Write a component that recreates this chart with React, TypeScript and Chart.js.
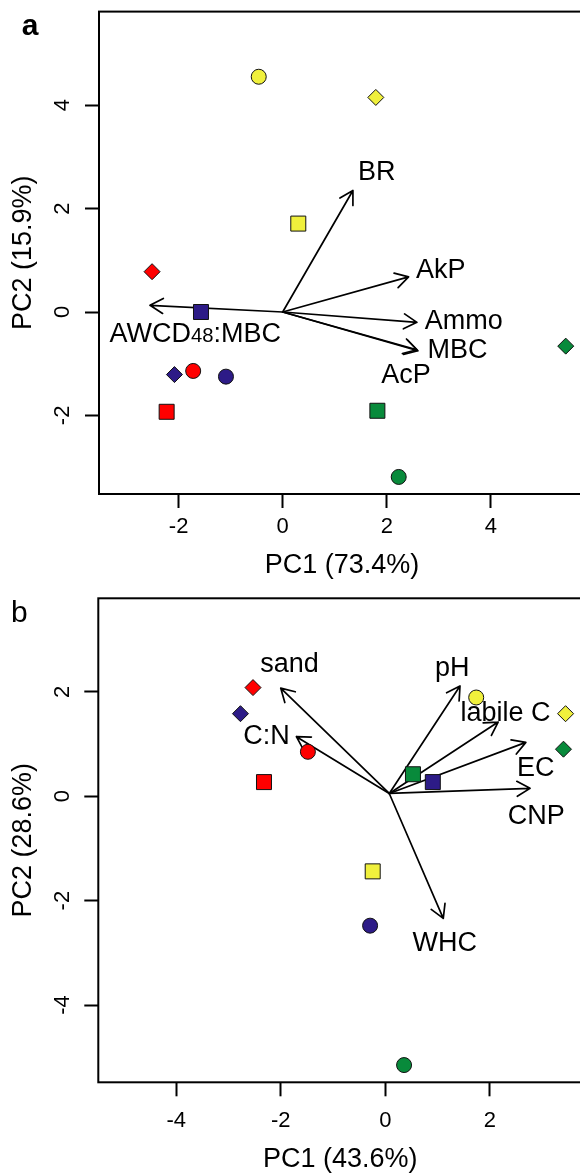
import React, { useEffect, useRef } from 'react';
import { Chart, registerables } from 'chart.js';

Chart.register(...registerables);

const FONT = '"Liberation Sans", Arial, Helvetica, sans-serif';
Chart.defaults.font.family = FONT;
Chart.defaults.color = '#000';

// group colours (yellow, red, navy, green) and marker shapes (circle, square, diamond)
const GROUP_COLORS = ['#F0F03C', '#FF0000', '#2D1B87', '#088A3B'];
const SHAPE_STYLES = ['circle', 'rect', 'rectRot'];
const SHAPE_RADII = [7.5, 10.6, 8];

// ---------------- Panel a ----------------
const A_GROUP = [0, 0, 0, 1, 1, 1, 2, 2, 2, 3, 3, 3];
const A_SHAPE = [0, 1, 2, 0, 1, 2, 0, 1, 2, 0, 1, 2];
const A_PC1 = [-0.46, 0.30, 1.79, -1.72, -2.23, -2.51, -1.09, -1.57, -2.08, 2.23, 1.82, 5.44];
const A_PC2 = [4.55, 1.71, 4.15, -1.14, -1.93, 0.78, -1.25, 0.0, -1.21, -3.19, -1.91, -0.66];
const A_VARS = ['BR', 'AkP', 'Ammo', 'MBC', 'AcP', 'AWCD48:MBC'];
const A_LOAD_X = [1.35, 2.42, 2.58, 2.60, 2.58, -2.55];
const A_LOAD_Y = [2.35, 0.68, -0.20, -0.75, -0.73, 0.13];
const A_LABEL_X = [1.81, 3.04, 3.48, 3.36, 2.37, -1.68];
const A_LABEL_Y = [2.74, 0.83, -0.14, -0.71, -1.19, -0.39];
const A_ORIGIN = [0, 0];
const A_X_TICKS = [-2, 0, 2, 4];
const A_Y_TICKS = [-2, 0, 2, 4];
const A_X_RANGE = [-3.53, 5.81];
const A_Y_RANGE = [-3.52, 5.81];

// ---------------- Panel b ----------------
const B_GROUP = [0, 0, 0, 1, 1, 1, 2, 2, 2, 3, 3, 3];
const B_SHAPE = [0, 1, 2, 0, 1, 2, 0, 1, 2, 0, 1, 2];
const B_PC1 = [1.74, -0.24, 3.45, -1.48, -2.32, -2.53, -0.29, 0.91, -2.77, 0.36, 0.53, 3.41];
const B_PC2 = [1.89, -1.44, 1.58, 0.85, 0.27, 2.08, -2.48, 0.27, 1.58, -5.15, 0.42, 0.90];
const B_VARS = ['sand', 'C:N', 'pH', 'labile C', 'EC', 'CNP', 'WHC'];
const B_LOAD_X = [-2.0, -1.70, 1.43, 2.16, 2.69, 2.77, 1.11];
const B_LOAD_Y = [2.07, 1.14, 2.11, 1.42, 1.03, 0.15, -2.34];
const B_LABEL_X = [-1.83, -2.27, 1.28, 2.30, 2.88, 2.89, 1.14];
const B_LABEL_Y = [2.55, 1.17, 2.48, 1.62, 0.57, -0.36, -2.78];
const B_ORIGIN = [0.077, 0.052];
const B_X_TICKS = [-4, -2, 0, 2];
const B_Y_TICKS = [-4, -2, 0, 2];
const B_X_RANGE = [-5.49, 3.77];
const B_Y_RANGE = [-5.48, 3.79];

type Panel = {
  group: number[]; shape: number[]; pc1: number[]; pc2: number[];
  vars: string[]; loadX: number[]; loadY: number[]; labX: number[]; labY: number[];
  origin: number[]; xTicks: number[]; yTicks: number[]; xRange: number[]; yRange: number[];
  xTitle: string; yTitle: string; letter: string;
};

type Layout = {
  top: number; height: number; padTop: number; padRight: number;
  yAxisW: number; xAxisH: number; xTickPad: number; yTickPad: number;
  xTitlePad: number; yTitlePad: number; letterX: number; letterY: number; letterBold: boolean;
};

const PANEL_A: Panel = {
  group: A_GROUP, shape: A_SHAPE, pc1: A_PC1, pc2: A_PC2,
  vars: A_VARS, loadX: A_LOAD_X, loadY: A_LOAD_Y, labX: A_LABEL_X, labY: A_LABEL_Y,
  origin: A_ORIGIN, xTicks: A_X_TICKS, yTicks: A_Y_TICKS, xRange: A_X_RANGE, yRange: A_Y_RANGE,
  xTitle: 'PC1 (73.4%)', yTitle: 'PC2 (15.9%)', letter: 'a',
};
const PANEL_B: Panel = {
  group: B_GROUP, shape: B_SHAPE, pc1: B_PC1, pc2: B_PC2,
  vars: B_VARS, loadX: B_LOAD_X, loadY: B_LOAD_Y, labX: B_LABEL_X, labY: B_LABEL_Y,
  origin: B_ORIGIN, xTicks: B_X_TICKS, yTicks: B_Y_TICKS, xRange: B_X_RANGE, yRange: B_Y_RANGE,
  xTitle: 'PC1 (43.6%)', yTitle: 'PC2 (28.6%)', letter: 'b',
};

const LAYOUT_A: Layout = {
  top: 0, height: 585, padTop: 10, padRight: 15, yAxisW: 99, xAxisH: 91,
  xTickPad: 5.8, yTickPad: 12, xTitlePad: 2.8, yTitlePad: 7.4, letterX: 30, letterY: 35, letterBold: true,
};
const LAYOUT_B: Layout = {
  top: 585, height: 600, padTop: 13.3, padRight: 17.7, yAxisW: 98.3, xAxisH: 102.7,
  xTickPad: 11.8, yTickPad: 12, xTitlePad: 9.5, yTitlePad: 7.4, letterX: 19.3, letterY: 36.7, letterBold: false,
};

const CANVAS_W = 600;
const LABEL_SIZE = 27;
const TICK_SIZE = 22;
const TITLE_SIZE = 27;

function drawArrow(ctx: CanvasRenderingContext2D, x0: number, y0: number, x1: number, y1: number) {
  const ang = Math.atan2(y1 - y0, x1 - x0);
  const L = 15;
  const a = Math.PI / 6;
  ctx.beginPath();
  ctx.moveTo(x0, y0);
  ctx.lineTo(x1, y1);
  ctx.moveTo(x1 - L * Math.cos(ang - a), y1 - L * Math.sin(ang - a));
  ctx.lineTo(x1, y1);
  ctx.lineTo(x1 - L * Math.cos(ang + a), y1 - L * Math.sin(ang + a));
  ctx.stroke();
}

function drawLabel(ctx: CanvasRenderingContext2D, text: string, cx: number, cy: number) {
  const segs = text.split(/(\d+)/).filter((s) => s.length).map((s) => ({
    s,
    size: /^\d+$/.test(s) ? LABEL_SIZE * 0.75 : LABEL_SIZE,
  }));
  let total = 0;
  const widths = segs.map((g) => {
    ctx.font = `${g.size}px ${FONT}`;
    const w = ctx.measureText(g.s).width;
    total += w;
    return w;
  });
  const baseline = cy + 0.3465 * LABEL_SIZE;
  let x = cx - total / 2;
  ctx.textAlign = 'left';
  ctx.textBaseline = 'alphabetic';
  segs.forEach((g, i) => {
    ctx.font = `${g.size}px ${FONT}`;
    ctx.fillText(g.s, x, baseline);
    x += widths[i];
  });
}

function makePlugin(p: Panel, l: Layout) {
  return {
    id: 'biplot_' + p.letter,
    beforeDatasetsDraw(chart: any) {
      const { ctx, scales } = chart;
      const xs = scales.x;
      const ys = scales.y;
      ctx.save();
      ctx.strokeStyle = '#000';
      ctx.lineWidth = 1.7;
      ctx.lineCap = 'round';
      ctx.lineJoin = 'round';
      const ox = xs.getPixelForValue(p.origin[0]);
      const oy = ys.getPixelForValue(p.origin[1]);
      p.loadX.forEach((lx, i) => {
        drawArrow(ctx, ox, oy, xs.getPixelForValue(lx), ys.getPixelForValue(p.loadY[i]));
      });
      ctx.restore();
    },
    afterDatasetsDraw(chart: any) {
      const { ctx, scales } = chart;
      ctx.save();
      ctx.fillStyle = '#000';
      p.vars.forEach((name, i) => {
        drawLabel(ctx, name, scales.x.getPixelForValue(p.labX[i]), scales.y.getPixelForValue(p.labY[i]));
      });
      ctx.restore();
    },
    afterDraw(chart: any) {
      const { ctx, chartArea } = chart;
      ctx.save();
      ctx.strokeStyle = '#000';
      ctx.lineWidth = 2;
      ctx.strokeRect(chartArea.left, chartArea.top, chartArea.right - chartArea.left, chartArea.bottom - chartArea.top);
      ctx.fillStyle = '#000';
      ctx.font = `${l.letterBold ? 'bold ' : ''}30px ${FONT}`;
      ctx.textAlign = 'center';
      ctx.textBaseline = 'alphabetic';
      ctx.fillText(p.letter, l.letterX, l.letterY);
      ctx.restore();
    },
  };
}

function buildConfig(p: Panel, l: Layout): any {
  const datasets = GROUP_COLORS.map((color, g) => {
    const idx = p.group.map((gg, i) => (gg === g ? i : -1)).filter((i) => i >= 0);
    return {
      label: 'group' + g,
      data: idx.map((i) => ({ x: p.pc1[i], y: p.pc2[i] })),
      pointStyle: idx.map((i) => SHAPE_STYLES[p.shape[i]]),
      pointRadius: idx.map((i) => SHAPE_RADII[p.shape[i]]),
      pointHoverRadius: idx.map((i) => SHAPE_RADII[p.shape[i]]),
      backgroundColor: color,
      borderColor: '#111',
      pointBorderWidth: 1,
      showLine: false,
      clip: false,
    };
  });
  const tickFont = { size: TICK_SIZE, family: FONT };
  const titleFont = { size: TITLE_SIZE, family: FONT, lineHeight: 1.2 };
  const grid = {
    display: true,
    drawOnChartArea: false,
    drawTicks: true,
    tickLength: 14,
    tickWidth: 2,
    tickColor: '#000',
    color: '#000',
  };
  const zeroPad = (s: any) => {
    s.paddingTop = 0;
    s.paddingBottom = 0;
    s.paddingLeft = 0;
    s.paddingRight = 0;
  };
  return {
    type: 'scatter',
    data: { datasets },
    plugins: [makePlugin(p, l)],
    options: {
      responsive: false,
      animation: false,
      devicePixelRatio: 1,
      events: [],
      layout: { padding: { top: l.padTop, right: l.padRight, left: 0, bottom: 0 } },
      plugins: { legend: { display: false }, tooltip: { enabled: false } },
      scales: {
        x: {
          type: 'linear',
          position: 'bottom',
          min: p.xRange[0],
          max: p.xRange[1],
          afterBuildTicks: (s: any) => {
            s.ticks = p.xTicks.map((v) => ({ value: v }));
          },
          afterFit: (s: any) => {
            s.height = l.xAxisH;
            zeroPad(s);
          },
          grid,
          border: { display: false },
          ticks: {
            color: '#000',
            font: tickFont,
            padding: l.xTickPad,
            maxRotation: 0,
            minRotation: 0,
            callback: (v: any) => String(v),
          },
          title: {
            display: true,
            text: p.xTitle,
            color: '#000',
            font: titleFont,
            padding: { top: 0, bottom: l.xTitlePad },
          },
        },
        y: {
          type: 'linear',
          position: 'left',
          min: p.yRange[0],
          max: p.yRange[1],
          afterBuildTicks: (s: any) => {
            s.ticks = p.yTicks.map((v) => ({ value: v }));
          },
          afterFit: (s: any) => {
            s.width = l.yAxisW;
            zeroPad(s);
          },
          grid,
          border: { display: false },
          ticks: {
            color: '#000',
            font: tickFont,
            padding: l.yTickPad,
            minRotation: 90,
            maxRotation: 90,
            crossAlign: 'center',
            callback: (v: any) => String(v),
          },
          title: {
            display: true,
            text: p.yTitle,
            color: '#000',
            font: titleFont,
            padding: { top: l.yTitlePad, bottom: 0 },
          },
        },
      },
    },
  };
}

function BiplotPanel({ panel, layout }: { panel: Panel; layout: Layout }) {
  const ref = useRef<HTMLCanvasElement | null>(null);
  useEffect(() => {
    if (!ref.current) return;
    const chart = new Chart(ref.current, buildConfig(panel, layout));
    return () => chart.destroy();
  }, [panel, layout]);
  return (
    <canvas
      ref={ref}
      width={CANVAS_W}
      height={layout.height}
      style={{ position: 'absolute', left: 0, top: layout.top, width: CANVAS_W, height: layout.height, display: 'block' }}
    />
  );
}

export default function App() {
  return (
    <div
      style={{
        position: 'absolute',
        left: 0,
        top: 0,
        width: 580,
        height: 1173,
        overflow: 'hidden',
        background: '#fff',
      }}
    >
      <BiplotPanel panel={PANEL_A} layout={LAYOUT_A} />
      <BiplotPanel panel={PANEL_B} layout={LAYOUT_B} />
    </div>
  );
}
